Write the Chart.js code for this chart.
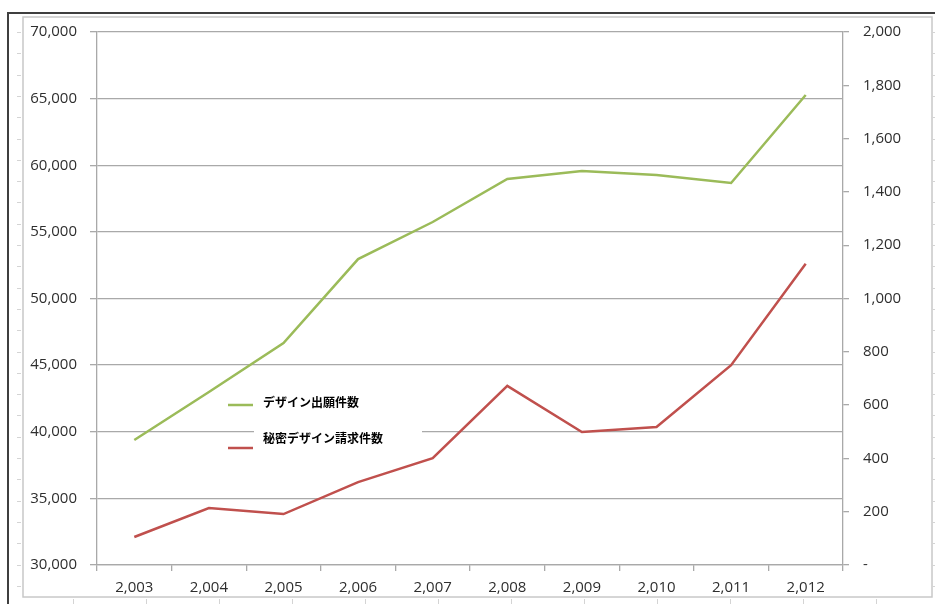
<!DOCTYPE html>
<html>
<head>
<meta charset="utf-8">
<script src="https://cdn.jsdelivr.net/npm/chart.js@4/dist/chart.umd.min.js"></script>
<style>
html,body{margin:0;padding:0;background:#fff;}
#wrap{position:relative;width:935px;height:604px;}
</style>
</head>
<body>
<div id="wrap"><canvas id="c" width="935" height="604"></canvas></div>
<script>
const years = ['2,003','2,004','2,005','2,006','2,007','2,008','2,009','2,010','2,011','2,012'];
const designApplications = [39380, 42980, 46660, 52960, 55740, 58970, 59570, 59270, 58670, 65270];
const secretDesignRequests = [105, 214, 191, 311, 401, 672, 499, 518, 750, 1130];
const seriesNames = ['デザイン出願件数', '秘密デザイン請求件数'];
const seriesColors = ['#9bbb59', '#c0504d'];

const GRID = '#a9a9a9';
const TICKFONT = {family: '"Open Sans", "Liberation Sans", sans-serif', size: 15};
const TICKCOLOR = '#2e2e2e';

const framePlugin = {
  id: 'frame',
  beforeDraw(chart) {
    const ctx = chart.ctx;
    ctx.save();
    ctx.fillStyle = '#fff';
    ctx.fillRect(0, 0, chart.width, chart.height);
    ctx.strokeStyle = '#d4d4d4';
    ctx.lineWidth = 1;
    for (let y = 32; y < 597; y += 21.3) {
      ctx.beginPath(); ctx.moveTo(17, Math.round(y) + 0.5); ctx.lineTo(21, Math.round(y) + 0.5); ctx.stroke();
      ctx.beginPath(); ctx.moveTo(933, Math.round(y) + 0.5); ctx.lineTo(935, Math.round(y) + 0.5); ctx.stroke();
    }
    for (let x = 73; x < 930; x += 73) {
      ctx.beginPath(); ctx.moveTo(Math.round(x) + 0.5, 599); ctx.lineTo(Math.round(x) + 0.5, 604); ctx.stroke();
    }
    ctx.strokeStyle = '#c8c8c8';
    ctx.lineWidth = 1.5;
    ctx.strokeRect(23, 17, 909, 580);
    ctx.strokeStyle = '#3f3f3f';
    ctx.lineWidth = 2;
    ctx.beginPath();
    ctx.moveTo(8, 604); ctx.lineTo(8, 13); ctx.lineTo(935, 13);
    ctx.stroke();
    ctx.restore();
  }
};

const legendPlugin = {
  id: 'customLegend',
  beforeDatasetsDraw(chart) {
    const ctx = chart.ctx;
    ctx.save();
    ctx.fillStyle = '#fff';
    ctx.fillRect(254, 392, 168, 62);
    ctx.font = 'bold 12px "Noto Sans CJK JP", sans-serif';
    ctx.textBaseline = 'middle';
    ctx.textAlign = 'left';
    const rows = [{ly: 405, ty: 402}, {ly: 448, ty: 438}];
    chart.data.datasets.forEach((ds, i) => {
      const r = rows[i];
      ctx.strokeStyle = ds.borderColor;
      ctx.lineWidth = 2.5;
      ctx.beginPath(); ctx.moveTo(228, r.ly); ctx.lineTo(253, r.ly); ctx.stroke();
      ctx.fillStyle = '#000';
      ctx.fillText(ds.label, 263, r.ty);
    });
    ctx.restore();
  }
};

new Chart(document.getElementById('c'), {
  type: 'line',
  data: {
    labels: years,
    datasets: [
      {label: seriesNames[0], data: designApplications, yAxisID: 'y', borderColor: seriesColors[0], backgroundColor: seriesColors[0], borderWidth: 2.5, pointRadius: 0, tension: 0},
      {label: seriesNames[1], data: secretDesignRequests, yAxisID: 'y1', borderColor: seriesColors[1], backgroundColor: seriesColors[1], borderWidth: 2.5, pointRadius: 0, tension: 0}
    ]
  },
  options: {
    responsive: false,
    animation: false,
    events: [],
    layout: {padding: {top: 32, left: 0, right: 0, bottom: 0}},
    plugins: {legend: {display: false}, tooltip: {enabled: false}, title: {display: false}},
    scales: {
      x: {
        offset: true,
        grid: {offset: true, drawOnChartArea: false, drawTicks: true, tickLength: 6, color: GRID, lineWidth: 1.3},
        border: {display: true, color: GRID, width: 1.3},
        ticks: {font: TICKFONT, color: TICKCOLOR, padding: 8, maxRotation: 0, autoSkip: false},
        afterFit(a) { a.height = 39; }
      },
      y: {
        position: 'left',
        min: 30000, max: 70000,
        grid: {color: GRID, lineWidth: 1.3, drawTicks: true, tickLength: 7},
        border: {display: true, color: GRID, width: 1.3},
        ticks: {stepSize: 5000, font: TICKFONT, color: TICKCOLOR, padding: 13,
          callback: v => v.toLocaleString('en-US')},
        afterFit(a) { a.width = 97; }
      },
      y1: {
        position: 'right',
        min: 0, max: 2000,
        grid: {drawOnChartArea: false, drawTicks: true, tickLength: 6, color: GRID, lineWidth: 1.3},
        border: {display: true, color: GRID, width: 1.3},
        ticks: {stepSize: 200, font: TICKFONT, color: TICKCOLOR, padding: 14,
          callback: v => v === 0 ? '-' : v.toLocaleString('en-US')},
        afterFit(a) { a.width = 92; }
      }
    }
  },
  plugins: [framePlugin, legendPlugin]
});
</script>
</body>
</html>
